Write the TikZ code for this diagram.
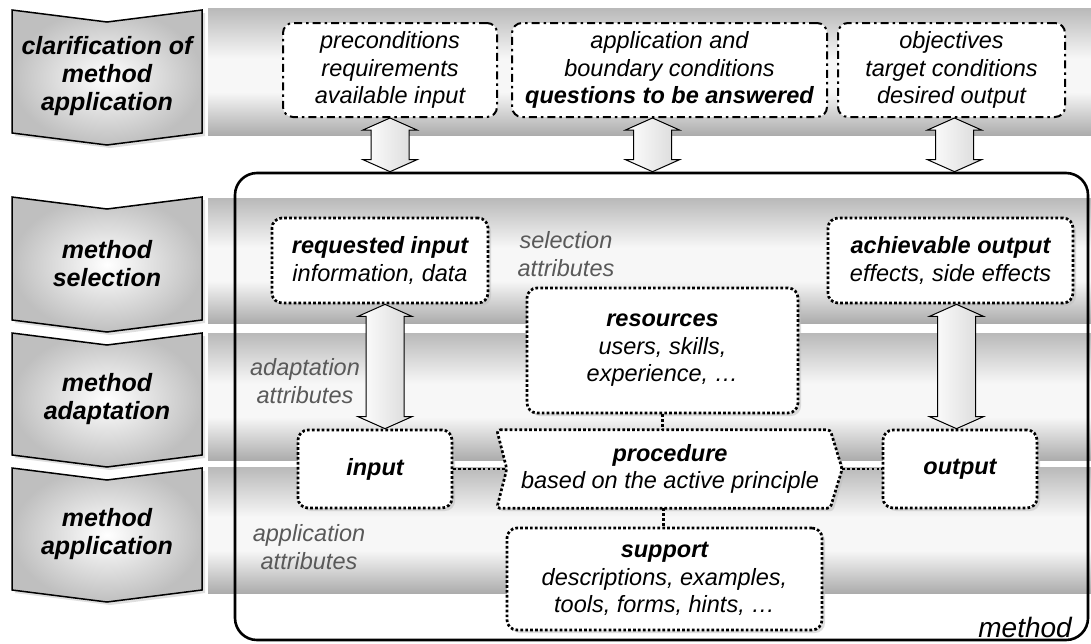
\documentclass[tikz,border=0pt]{standalone}
\usepackage{fontspec}
\setmainfont{Liberation Sans}
\usetikzlibrary{positioning,shadows,calc}

\pgfdeclareverticalshading{bandshade}{100bp}{color(0bp)=(gray!65); color(25bp)=(gray!65); color(42bp)=(gray!6); color(55bp)=(gray!6); color(75bp)=(gray!55); color(100bp)=(gray!55)}

\begin{document}
\begin{tikzpicture}[
    x=1pt, y=-1pt,
    every node/.style={font=\fontsize{23.5}{27.5}\selectfont\itshape, align=center, inner sep=0pt},
    chevron/.style={draw=black, line width=1.5pt, shading=radial, inner color=white, outer color=gray!50,
        drop shadow={shadow xshift=3pt, shadow yshift=-3pt, fill=black!25}},
    chevtext/.style={font=\fontsize{25}{28}\selectfont\bfseries\itshape},
    condbox/.style={draw=black, fill=white, line width=2pt, dash pattern=on 8pt off 4pt on 2.5pt off 4pt,
        rounded corners=10pt, minimum height=94pt},
    dotbox/.style={draw=black, fill=white, line width=2.7pt, dash pattern=on 2.7pt off 2.2pt, rounded corners=10pt,
        drop shadow={shadow xshift=3pt, shadow yshift=-3pt, fill=black!25}},
    dotline/.style={draw=black, line width=2.7pt, dash pattern=on 2.7pt off 2.2pt},
    attr/.style={text=black!65},
    bigarrow/.style={draw=black, line width=1pt, left color=white, right color=gray!30,
        to path={let \p1=(\tikztostart), \p2=(\tikztotarget) in
            (\x1,\y1) -- ({\x1+27pt},{\y1-12pt}) -- ({\x1+19pt},{\y1-12pt}) -- ({\x1+19pt},{\y2+12pt})
            -- ({\x1+27pt},{\y2+12pt}) -- (\x1,\y2) -- ({\x1-27pt},{\y2+12pt}) -- ({\x1-19pt},{\y2+12pt})
            -- ({\x1-19pt},{\y1-12pt}) -- ({\x1-27pt},{\y1-12pt}) -- cycle}}
]
\useasboundingbox (0,0) rectangle (1091,643);

% Bands
\shade[shading=bandshade] (208,8) rectangle (1091,135);
\shade[shading=bandshade] (208,198) rectangle (1091,323);
\shade[shading=bandshade] (208,333) rectangle (1091,460);
\shade[shading=bandshade] (208,467) rectangle (1091,593);

% Phases
\foreach \t/\b/\nm/\txt in {10/133/clar/{clarification of\\method\\application},
    197/320/sel/{method\\selection}, 333/455/adapt/{method\\adaptation}, 468/590/appl/{method\\application}}{
  \shadedraw[chevron] (12,\t) -- (107,{\t+12}) -- (202,\t) -- (202,\b) -- (107,{\b+12}) -- (12,\b) -- cycle;
  \node[chevtext] (\nm) at (107,{(\t+\b)/2+5}) {\txt};
}

% Method frame
\node[draw=black, line width=2.6pt, rounded corners=22pt, minimum width=853pt, minimum height=467pt]
    (method) at (661.5,406.5) {};
\node[anchor=base east, font=\fontsize{28}{32}\selectfont\itshape] (methodlbl) at (1072,637) {method};

% Clarification
\node[condbox, minimum width=214pt] (precond) at (390,70) {preconditions\\requirements\\available input};
\node[condbox, minimum width=315pt] (boundary) at (669.5,70) {application and\\boundary conditions\\{\bfseries questions to be answered}};
\node[condbox, minimum width=227pt] (objective) at (951.5,70) {objectives\\target conditions\\desired output};

\draw[bigarrow] (precond.south) to (precond.south |- method.north);
\draw[bigarrow] ([xshift=-17pt]boundary.south) to ([xshift=-17pt]boundary.south |- method.north);
\draw[bigarrow] ([xshift=3pt]objective.south) to ([xshift=3pt]objective.south |- method.north);

% Selection
\node[dotbox, minimum width=216pt, minimum height=85pt] (reqin) at (380,260.5) {{\bfseries requested input}\\information, data};
\node[dotbox, minimum width=245pt, minimum height=85pt] (achout) at (950.5,260.5) {{\bfseries achievable output}\\effects, side effects};
\node[attr] (selattr) at (566,254) {selection\\attributes};

% Adaptation / application
\node[dotbox, minimum width=271pt, minimum height=125pt] (res) at (662.5,350.5) {{\bfseries resources}\\users, skills,\\experience, …};
\node[dotbox, minimum width=154pt, minimum height=78pt] (input) at (375,469) {\bfseries input};
\node[dotbox, minimum width=154pt, minimum height=78pt] (output) at (960,469) {\bfseries output};
\node[minimum width=333pt, minimum height=78pt] (proc) at (663.5,469) {};
\draw[dotbox, rounded corners=3pt] (proc.north west) -- (proc.north east) -- ([xshift=12pt]proc.east)
    -- (proc.south east) -- (proc.south west) -- ([xshift=10pt]proc.west) -- cycle;
\node (proctxt) at (670,469) {{\bfseries procedure}\\based on the active principle};
\node[dotbox, minimum width=315pt, minimum height=102pt] (support) at (664.5,579) {{\bfseries support}\\descriptions, examples,\\tools, forms, hints, …};
\node[attr] (adaptattr) at (305,381) {adaptation\\attributes};
\node[attr] (applattr) at (309,547) {application\\attributes};

\draw[bigarrow] ([xshift=5pt]reqin.south) to ([xshift=5pt]reqin.south |- input.north);
\draw[bigarrow] ([xshift=6pt]achout.south) to ([xshift=6pt]achout.south |- output.north);

% Links
\draw[dotline] (input.east) -- ([xshift=10pt]proc.west);
\draw[dotline] ([xshift=12pt]proc.east) -- (output.west);
\draw[dotline] (res.south) -- (res.south |- proc.north);
\draw[dotline] (proc.south) -- (proc.south |- support.north);

\end{tikzpicture}
\end{document}
